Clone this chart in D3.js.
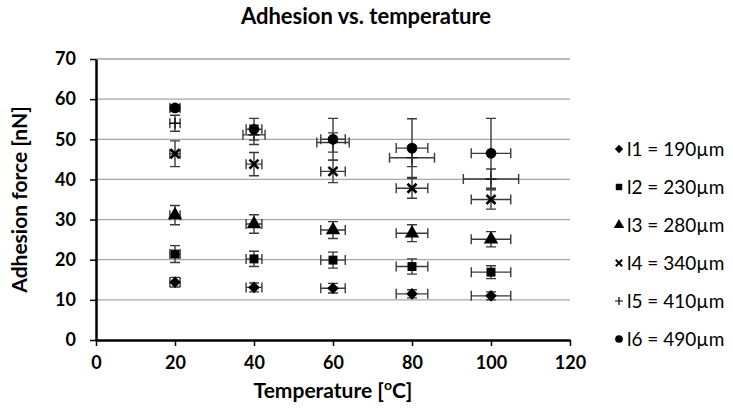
<!DOCTYPE html>
<html>
<head>
<meta charset="utf-8">
<script src="https://cdn.jsdelivr.net/npm/d3@7"></script>
<style>
  body { margin: 0; background: #fff; }
  text { font-family: Lato, "Open Sans", sans-serif; }
</style>
</head>
<body>
<div id="container"></div>
<script>
// ---------------- DATA ----------------
const temps = [20, 40, 60, 80, 100];
const seriesNames = ["l1 = 190\u00b5m", "l2 = 230\u00b5m", "l3 = 280\u00b5m", "l4 = 340\u00b5m", "l5 = 410\u00b5m", "l6 = 490\u00b5m"];
const symbols = ["diamond", "square", "triangle", "cross", "plus", "circle"];

const l1 = [14.4, 13.1, 12.9, 11.5, 11.0];
const l2 = [21.4, 20.2, 19.9, 18.3, 16.9];
const l3 = [31.1, 28.9, 27.4, 26.6, 25.1];
const l4 = [46.4, 43.8, 42.0, 37.8, 35.0];
const l5 = [54.0, 51.1, 49.2, 45.4, 40.1];
const l6 = [57.8, 52.5, 50.0, 47.8, 46.5];

const l1Err = [1.2, 1.1, 1.2, 1.0, 1.0];
const l2Err = [2.1, 1.9, 2.0, 1.9, 1.6];
const l3Err = [2.4, 2.3, 2.1, 2.1, 1.9];
const l4Err = [3.2, 2.9, 2.8, 2.5, 2.4];
const l5Err = [2.0, 2.4, 2.4, 2.2, 2.5];
const l6Err = [0.8, 2.7, 5.2, 7.3, 8.7];

// horizontal (temperature) error
const tErr = [1.3, 2.0, 3.1, 4.0, 5.0];
const l5TErr = [1.3, 2.8, 4.1, 5.7, 7.0];

const xTicks = [0, 20, 40, 60, 80, 100, 120];
const yTicks = [0, 10, 20, 30, 40, 50, 60, 70];

const values = [l1, l2, l3, l4, l5, l6];
const yErrs = [l1Err, l2Err, l3Err, l4Err, l5Err, l6Err];
const xErrs = [tErr, tErr, tErr, tErr, l5TErr, tErr];

// ---------------- LAYOUT ----------------
const width = 733, height = 414;
const plot = { left: 96, right: 570, top: 59, bottom: 340 };

const svg = d3.select("#container").append("svg")
    .attr("width", width)
    .attr("height", height);

const x = d3.scaleLinear().domain([0, 120]).range([plot.left, plot.right]);
const y = d3.scaleLinear().domain([0, 70]).range([plot.bottom, plot.top]);

// gridlines
svg.append("g")
    .selectAll("line")
    .data(yTicks.filter(d => d > 0))
    .enter().append("line")
    .attr("x1", plot.left).attr("x2", plot.right)
    .attr("y1", d => y(d)).attr("y2", d => y(d))
    .attr("stroke", "#a6a6a6")
    .attr("stroke-width", 1.3);

// axes
const xAxis = d3.axisBottom(x).tickValues(xTicks).tickSize(6).tickSizeOuter(0);
const yAxis = d3.axisLeft(y).tickValues(yTicks).tickSize(6).tickSizeOuter(0);

const gx = svg.append("g")
    .attr("transform", "translate(0," + plot.bottom + ")")
    .call(xAxis);
const gy = svg.append("g")
    .attr("transform", "translate(" + plot.left + ",0)")
    .call(yAxis);

[gx, gy].forEach(g => {
    g.select(".domain").attr("stroke", "#000").attr("stroke-width", 2.5);
    g.selectAll(".tick line").attr("stroke", "#000").attr("stroke-width", 1.5);
    g.selectAll(".tick text")
        .attr("fill", "#000")
        .style("font-size", "18px")
        .style("font-weight", "bold");
});
gx.selectAll(".tick text").attr("dy", "1.1em");
gy.selectAll(".tick text").attr("x", -20);

// ---------------- MARKS ----------------
const symbolTypes = {
    square: d3.symbolSquare,
    triangle: d3.symbolTriangle,
    circle: d3.symbolCircle
};
const symbolSizes = { square: 80, triangle: 90, circle: 90 };

function drawMarker(g, type, cx, cy, scale) {
    if (type === "cross") {
        const s = 4.5 * scale;
        g.append("path")
            .attr("d", `M${cx - s},${cy - s}L${cx + s},${cy + s}M${cx - s},${cy + s}L${cx + s},${cy - s}`)
            .attr("stroke", "#000").attr("stroke-width", 2.6 * scale);
    } else if (type === "plus") {
        const s = 5.5 * scale;
        g.append("path")
            .attr("d", `M${cx - s},${cy}L${cx + s},${cy}M${cx},${cy - s}L${cx},${cy + s}`)
            .attr("stroke", "#000").attr("stroke-width", 1.2);
    } else if (type === "diamond") {
        const s = 5.8 * scale;
        g.append("path")
            .attr("d", `M${cx},${cy - s}L${cx + s},${cy}L${cx},${cy + s}L${cx - s},${cy}Z`)
            .attr("fill", "#000");
    } else {
        g.append("path")
            .attr("transform", `translate(${cx},${cy})`)
            .attr("d", d3.symbol().type(symbolTypes[type]).size(symbolSizes[type] * scale * scale)())
            .attr("fill", "#000");
    }
}

const cap = 5;
values.forEach((vals, si) => {
    const g = svg.append("g");
    vals.forEach((v, i) => {
        const cx = x(temps[i]), cy = y(v);
        const ye = yErrs[si][i], xe = xErrs[si][i];
        const eb = g.append("g").attr("stroke", "#3a3a3a").attr("stroke-width", 1.4).attr("fill", "none");
        // vertical error bar
        const y1 = y(v + ye), y2 = y(v - ye);
        eb.append("path").attr("d", `M${cx},${y1}L${cx},${y2}M${cx - cap},${y1}L${cx + cap},${y1}M${cx - cap},${y2}L${cx + cap},${y2}`);
        // horizontal error bar
        const x1 = x(temps[i] - xe), x2 = x(temps[i] + xe);
        eb.append("path").attr("d", `M${x1},${cy}L${x2},${cy}M${x1},${cy - cap}L${x1},${cy + cap}M${x2},${cy - cap}L${x2},${cy + cap}`);
        drawMarker(g, symbols[si], cx, cy, 1);
    });
});

// ---------------- LEGEND ----------------
const legend = svg.append("g");
seriesNames.forEach((name, i) => {
    const ly = 149 + i * 38;
    drawMarker(legend, symbols[i], 619, ly, 0.72);
    legend.append("text")
        .attr("x", 627).attr("y", ly)
        .attr("dy", "0.36em")
        .style("font-size", "19px")
        .text(name);
});

// ---------------- TITLES ----------------
svg.append("text")
    .attr("x", 366).attr("y", 24)
    .attr("text-anchor", "middle")
    .style("font-size", "22px").style("font-weight", "bold")
    .text("Adhesion vs. temperature");

const xt = svg.append("text")
    .attr("x", (plot.left + plot.right) / 2).attr("y", 398)
    .attr("text-anchor", "middle")
    .style("font-size", "21px").style("font-weight", "bold");
xt.append("tspan").text("Temperature [");
xt.append("tspan").attr("dy", -8).style("font-size", "14px").text("o");
xt.append("tspan").attr("dy", 8).text("C]");

svg.append("text")
    .attr("transform", `translate(27,${(plot.top + plot.bottom) / 2}) rotate(-90)`)
    .attr("text-anchor", "middle")
    .style("font-size", "21px").style("font-weight", "bold")
    .text("Adhesion force [nN]");
</script>
</body>
</html>
